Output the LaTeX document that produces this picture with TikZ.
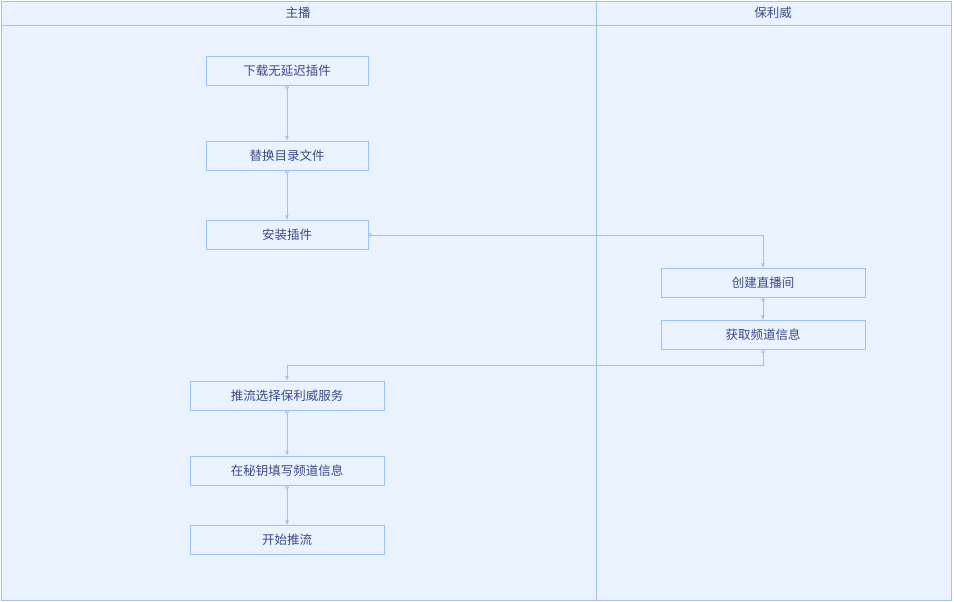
\documentclass[tikz,border=0pt]{standalone}
\usepackage{fontspec}
\newfontfamily\cjk{Noto Sans CJK SC}
\usetikzlibrary{arrows.meta}
\definecolor{bg}{HTML}{EAF2FF}
\definecolor{ln}{HTML}{9DC3F5}
\definecolor{tx}{HTML}{3C4A86}
\tikzset{
  box/.style={draw=ln, fill=bg, minimum height=29pt, inner sep=0pt, font=\cjk\fontsize{12.5}{14}\selectfont, text=tx},
  conn/.style={draw=ln, line width=0.8pt, {Circle[open,length=4pt,fill=bg]}-{Latex[length=5pt,width=4pt]}},
  hdr/.style={font=\cjk\fontsize{12.5}{14}\selectfont, text=tx}
}
\begin{document}
\begin{tikzpicture}[x=1pt,y=-1pt]
\useasboundingbox (0,0) rectangle (954,602);
\fill[white] (0,0) rectangle (954,602);
\draw[ln, fill=bg] (1,1) rectangle (951,600);
\draw[ln] (1,25) -- (951,25);
\draw[ln, line width=1pt] (596,1) -- (596,600);
\node[hdr] (h1) at (298,13) {主播};
\node[hdr] (h2) at (773,13) {保利威};
\node[box, minimum width=162pt] (A) at (287,70.5) {下载无延迟插件};
\node[box, minimum width=162pt] (B) at (287,155.5) {替换目录文件};
\node[box, minimum width=162pt] (C) at (287,235) {安装插件};
\node[box, minimum width=204pt] (D) at (763,283) {创建直播间};
\node[box, minimum width=204pt] (E) at (763,335) {获取频道信息};
\node[box, minimum width=194pt] (F) at (287,395.5) {推流选择保利威服务};
\node[box, minimum width=194pt] (G) at (287,470.5) {在秘钥填写频道信息};
\node[box, minimum width=194pt] (H) at (287,540) {开始推流};
\draw[conn] (A.south) -- (B.north);
\draw[conn] (B.south) -- (C.north);
\draw[conn] (C.east) -| (D.north);
\draw[conn] (D.south) -- (E.north);
\draw[conn] (E.south) |- (287,365) -- (F.north);
\draw[conn] (F.south) -- (G.north);
\draw[conn] (G.south) -- (H.north);
\end{tikzpicture}
\end{document}
